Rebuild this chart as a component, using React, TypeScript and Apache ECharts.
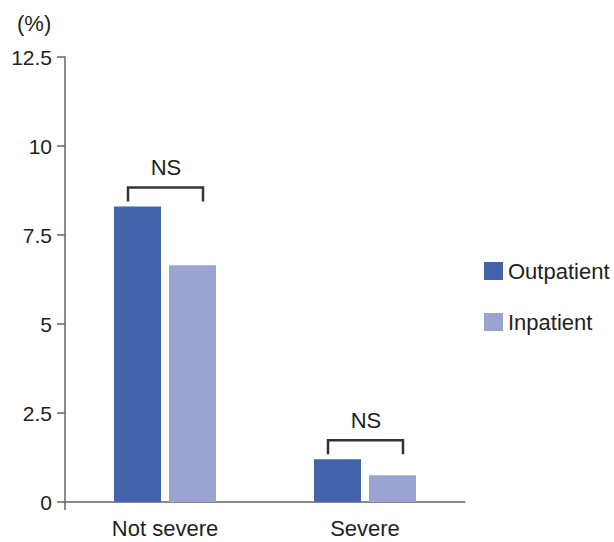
import React, { useEffect, useRef } from "react";
import * as echarts from "echarts";

const categories = ["Not severe", "Severe"];
const outpatient = [8.3, 1.2];
const inpatient = [6.65, 0.75];
const significance = ["NS", "NS"];
const yTicks = [0, 2.5, 5, 7.5, 10, 12.5];

const FONT = "'Liberation Sans', Arial, sans-serif";
const TEXT = "#231f20";
const AXIS = "#666";

export default function App() {
  const ref = useRef<HTMLDivElement>(null);
  useEffect(() => {
    if (!ref.current) return;
    const chart = echarts.init(ref.current, undefined, { renderer: "svg" });
    const bracketData = categories.map((_, i) => [i, Math.max(outpatient[i], inpatient[i]), significance[i]]);
    chart.setOption({
      animation: false,
      textStyle: { fontFamily: FONT },
      grid: { left: 65, right: 149, top: 57, bottom: 40, containLabel: false },
      graphic: [
        {
          type: "text",
          left: 17,
          top: 12,
          style: { text: "(%)", fontSize: 22, fontFamily: FONT, fill: TEXT },
        },
      ],
      legend: {
        orient: "vertical",
        left: 479,
        top: 255,
        itemWidth: 19,
        itemHeight: 18,
        itemGap: 29,
        icon: "rect",
        data: ["Outpatient", "Inpatient"],
        textStyle: { fontSize: 22, color: TEXT, fontFamily: FONT },
      },
      xAxis: {
        type: "category",
        data: categories,
        boundaryGap: true,
        axisLine: { lineStyle: { color: AXIS, width: 1.5 } },
        axisTick: { show: false },
        axisLabel: { fontSize: 22, color: TEXT, margin: 15, fontFamily: FONT },
      },
      yAxis: {
        type: "value",
        min: yTicks[0],
        max: yTicks[yTicks.length - 1],
        interval: 2.5,
        axisLine: { show: true, lineStyle: { color: AXIS, width: 1.5 } },
        axisTick: { show: true, length: 8, lineStyle: { color: AXIS, width: 1.5 } },
        splitLine: { show: false },
        axisLabel: { fontSize: 21, color: TEXT, margin: 13, fontFamily: FONT },
      },
      series: [
        {
          name: "Outpatient",
          type: "bar",
          data: outpatient,
          barWidth: 47,
          barGap: "17%",
          itemStyle: { color: "#4363ac" },
        },
        {
          name: "Inpatient",
          type: "bar",
          data: inpatient,
          barWidth: 47,
          itemStyle: { color: "#9ba3d0" },
        },
        {
          name: "originTick",
          type: "custom",
          data: [[0, yTicks[0]]],
          clip: false,
          z: 10,
          renderItem: (_params: any, api: any) => {
            const p = api.coord([api.value(0), api.value(1)]);
            const band = api.size([1, 0])[0];
            const x = p[0] - band / 2;
            return {
              type: "line",
              shape: { x1: x, y1: p[1], x2: x, y2: p[1] + 8 },
              style: { stroke: AXIS, lineWidth: 1.5 },
            };
          },
        },
        {
          name: "brackets",
          type: "custom",
          data: bracketData,
          clip: false,
          z: 10,
          renderItem: (params: any, api: any) => {
            const p = api.coord([api.value(0), api.value(1)]);
            const cx = p[0];
            const top = p[1] - 19;
            const label = bracketData[params.dataIndex][2] as string;
            return {
              type: "group",
              children: [
                {
                  type: "polyline",
                  shape: {
                    points: [
                      [cx - 37, top + 14],
                      [cx - 37, top],
                      [cx + 38, top],
                      [cx + 38, top + 14],
                    ],
                  },
                  style: { stroke: "#333", lineWidth: 2.5, fill: "none" },
                },
                {
                  type: "text",
                  x: cx + 1,
                  y: top - 20,
                  style: {
                    text: label,
                    fontSize: 22,
                    fontFamily: FONT,
                    fill: TEXT,
                    align: "center",
                    verticalAlign: "middle",
                  },
                },
              ],
            };
          },
        },
      ],
    });
    return () => chart.dispose();
  }, []);
  return <div ref={ref} style={{ width: 614, height: 542, position: "absolute", left: 0, top: 0 }} />;
}
